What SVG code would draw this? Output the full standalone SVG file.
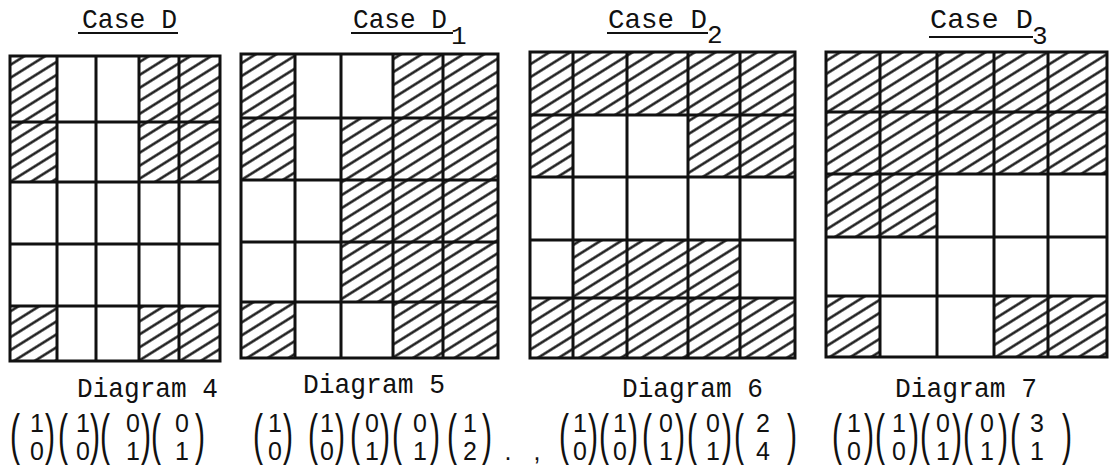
<svg xmlns="http://www.w3.org/2000/svg" width="1111" height="470" viewBox="0 0 1111 470">
<style>
.title{font-family:"Liberation Mono","DejaVu Sans Mono",monospace;font-size:28px;fill:#111}
.sub{font-family:"Liberation Mono","DejaVu Sans Mono",monospace;font-size:26px;fill:#111}
.cap{font-family:"Liberation Mono","DejaVu Sans Mono",monospace;font-size:28px;fill:#111}
.dig{font-family:"Liberation Sans","DejaVu Sans",sans-serif;font-size:25px;fill:#111;text-anchor:middle}
.par{font-family:"Liberation Sans","DejaVu Sans",sans-serif;font-size:40px;fill:#111}
.ul{stroke:#111;stroke-width:2}
.grid{fill:none;stroke:#111;stroke-width:3;stroke-linecap:square}
.h{fill:url(#hatch)}
</style>
<defs>
<pattern id="hatch" patternUnits="userSpaceOnUse" width="14" height="11" patternTransform="rotate(-32)">
<line x1="0" y1="5.5" x2="14" y2="5.5" stroke="#111" stroke-width="2.4"/>
</pattern>
</defs>
<rect width="1111" height="470" fill="#fff"/>
<g id="connectors"/>

<g id="caseD">
<text class="title" x="82" y="28" textLength="95" lengthAdjust="spacingAndGlyphs">Case D</text>
<line class="ul" x1="78" y1="33" x2="178" y2="33"/>
<rect class="h" x="10" y="56" width="47" height="66"/>
<rect class="h" x="139" y="56" width="81" height="66"/>
<rect class="h" x="10" y="122" width="47" height="60"/>
<rect class="h" x="139" y="122" width="81" height="60"/>
<rect class="h" x="10" y="306" width="47" height="55"/>
<rect class="h" x="139" y="306" width="81" height="55"/>
<path class="grid" d="M10 56H220V361H10Z M57 56V361 M96 56V361 M139 56V361 M179 56V361 M10 122H220 M10 182H220 M10 244H220 M10 306H220"/>
<text class="cap" x="77" y="397" textLength="141" lengthAdjust="spacingAndGlyphs">Diagram 4</text>
<text class="par" transform="translate(10,453) scale(0.75,1.4)">(</text><text class="par" transform="translate(45,453) scale(0.75,1.4)">)</text>
<text class="dig" x="37" y="432">1</text><text class="dig" x="37" y="460">0</text>
<text class="par" transform="translate(58,453) scale(0.75,1.4)">(</text><text class="par" transform="translate(90,453) scale(0.75,1.4)">)</text>
<text class="dig" x="83" y="432">1</text><text class="dig" x="83" y="460">0</text>
<text class="par" transform="translate(100,453) scale(0.75,1.4)">(</text><text class="par" transform="translate(141,453) scale(0.75,1.4)">)</text>
<text class="dig" x="133" y="432">0</text><text class="dig" x="133" y="460">1</text>
<text class="par" transform="translate(151,453) scale(0.75,1.4)">(</text><text class="par" transform="translate(195,453) scale(0.75,1.4)">)</text>
<text class="dig" x="182" y="432">0</text><text class="dig" x="182" y="460">1</text>
</g>

<g id="caseD1">
<text class="title" x="353" y="28" textLength="94" lengthAdjust="spacingAndGlyphs">Case D</text>
<text class="sub" x="451" y="44">1</text>
<line class="ul" x1="351" y1="33" x2="453" y2="33"/>
<rect class="h" x="241" y="54" width="54" height="64"/>
<rect class="h" x="393" y="54" width="105" height="64"/>
<rect class="h" x="241" y="118" width="54" height="62"/>
<rect class="h" x="341" y="118" width="157" height="62"/>
<rect class="h" x="341" y="180" width="157" height="62"/>
<rect class="h" x="341" y="242" width="157" height="60"/>
<rect class="h" x="241" y="302" width="54" height="56"/>
<rect class="h" x="393" y="302" width="105" height="56"/>
<path class="grid" d="M241 54H498V358H241Z M295 54V358 M341 54V358 M393 54V358 M443 54V358 M241 118H498 M241 180H498 M241 242H498 M241 302H498"/>
<text class="cap" x="303" y="393" textLength="142" lengthAdjust="spacingAndGlyphs">Diagram 5</text>
<text class="par" transform="translate(253,453) scale(0.75,1.4)">(</text><text class="par" transform="translate(283,453) scale(0.75,1.4)">)</text>
<text class="dig" x="275" y="432">1</text><text class="dig" x="275" y="460">0</text>
<text class="par" transform="translate(308,453) scale(0.75,1.4)">(</text><text class="par" transform="translate(335,453) scale(0.75,1.4)">)</text>
<text class="dig" x="327" y="432">1</text><text class="dig" x="327" y="460">0</text>
<text class="par" transform="translate(350,453) scale(0.75,1.4)">(</text><text class="par" transform="translate(380,453) scale(0.75,1.4)">)</text>
<text class="dig" x="372" y="432">0</text><text class="dig" x="372" y="460">1</text>
<text class="par" transform="translate(392,453) scale(0.75,1.4)">(</text><text class="par" transform="translate(430,453) scale(0.75,1.4)">)</text>
<text class="dig" x="420" y="432">0</text><text class="dig" x="420" y="460">1</text>
<text class="par" transform="translate(447,453) scale(0.75,1.4)">(</text><text class="par" transform="translate(482,453) scale(0.75,1.4)">)</text>
<text class="dig" x="470" y="432">1</text><text class="dig" x="470" y="460">2</text>
<text class="dig" x="508" y="460">.</text>
<text class="dig" x="537" y="460">,</text>
</g>

<g id="caseD2">
<text class="title" x="608" y="28" textLength="99" lengthAdjust="spacingAndGlyphs">Case D</text>
<text class="sub" x="707" y="43">2</text>
<line class="ul" x1="607" y1="33" x2="708" y2="33"/>
<rect class="h" x="530" y="52" width="265" height="63"/>
<rect class="h" x="530" y="115" width="43" height="62"/>
<rect class="h" x="688" y="115" width="107" height="62"/>
<rect class="h" x="573" y="240" width="167" height="58"/>
<rect class="h" x="530" y="298" width="265" height="60"/>
<path class="grid" d="M530 52H795V358H530Z M573 52V358 M627 52V358 M688 52V358 M740 52V358 M530 115H795 M530 177H795 M530 240H795 M530 298H795"/>
<text class="cap" x="622" y="397" textLength="141" lengthAdjust="spacingAndGlyphs">Diagram 6</text>
<text class="par" transform="translate(559,453) scale(0.75,1.4)">(</text><text class="par" transform="translate(588,453) scale(0.75,1.4)">)</text>
<text class="dig" x="580" y="432">1</text><text class="dig" x="580" y="460">0</text>
<text class="par" transform="translate(599,453) scale(0.75,1.4)">(</text><text class="par" transform="translate(628,453) scale(0.75,1.4)">)</text>
<text class="dig" x="620" y="432">1</text><text class="dig" x="620" y="460">0</text>
<text class="par" transform="translate(642,453) scale(0.75,1.4)">(</text><text class="par" transform="translate(675,453) scale(0.75,1.4)">)</text>
<text class="dig" x="666" y="432">0</text><text class="dig" x="666" y="460">1</text>
<text class="par" transform="translate(687,453) scale(0.75,1.4)">(</text><text class="par" transform="translate(722,453) scale(0.75,1.4)">)</text>
<text class="dig" x="713" y="432">0</text><text class="dig" x="713" y="460">1</text>
<text class="par" transform="translate(734,453) scale(0.75,1.4)">(</text><text class="par" transform="translate(787,453) scale(0.75,1.4)">)</text>
<text class="dig" x="763" y="432">2</text><text class="dig" x="763" y="460">4</text>
</g>

<g id="caseD3">
<text class="title" x="930" y="28" textLength="103" lengthAdjust="spacingAndGlyphs">Case D</text>
<text class="sub" x="1032" y="44">3</text>
<line class="ul" x1="929" y1="37" x2="1033" y2="37"/>
<rect class="h" x="826" y="52" width="281" height="60"/>
<rect class="h" x="826" y="112" width="281" height="62"/>
<rect class="h" x="826" y="174" width="111" height="63"/>
<rect class="h" x="826" y="296" width="54" height="61"/>
<rect class="h" x="994" y="296" width="113" height="61"/>
<path class="grid" d="M826 52H1107V357H826Z M880 52V357 M937 52V357 M994 52V357 M1048 52V357 M826 112H1107 M826 174H1107 M826 237H1107 M826 296H1107"/>
<text class="cap" x="895" y="397" textLength="142" lengthAdjust="spacingAndGlyphs">Diagram 7</text>
<text class="par" transform="translate(832,453) scale(0.75,1.4)">(</text><text class="par" transform="translate(864,453) scale(0.75,1.4)">)</text>
<text class="dig" x="854" y="432">1</text><text class="dig" x="854" y="460">0</text>
<text class="par" transform="translate(875,453) scale(0.75,1.4)">(</text><text class="par" transform="translate(909,453) scale(0.75,1.4)">)</text>
<text class="dig" x="899" y="432">1</text><text class="dig" x="899" y="460">0</text>
<text class="par" transform="translate(920,453) scale(0.75,1.4)">(</text><text class="par" transform="translate(952,453) scale(0.75,1.4)">)</text>
<text class="dig" x="943" y="432">0</text><text class="dig" x="943" y="460">1</text>
<text class="par" transform="translate(963,453) scale(0.75,1.4)">(</text><text class="par" transform="translate(998,453) scale(0.75,1.4)">)</text>
<text class="dig" x="987" y="432">0</text><text class="dig" x="987" y="460">1</text>
<text class="par" transform="translate(1010,453) scale(0.75,1.4)">(</text><text class="par" transform="translate(1062,453) scale(0.75,1.4)">)</text>
<text class="dig" x="1037" y="432">3</text><text class="dig" x="1037" y="460">1</text>
</g>
</svg>
